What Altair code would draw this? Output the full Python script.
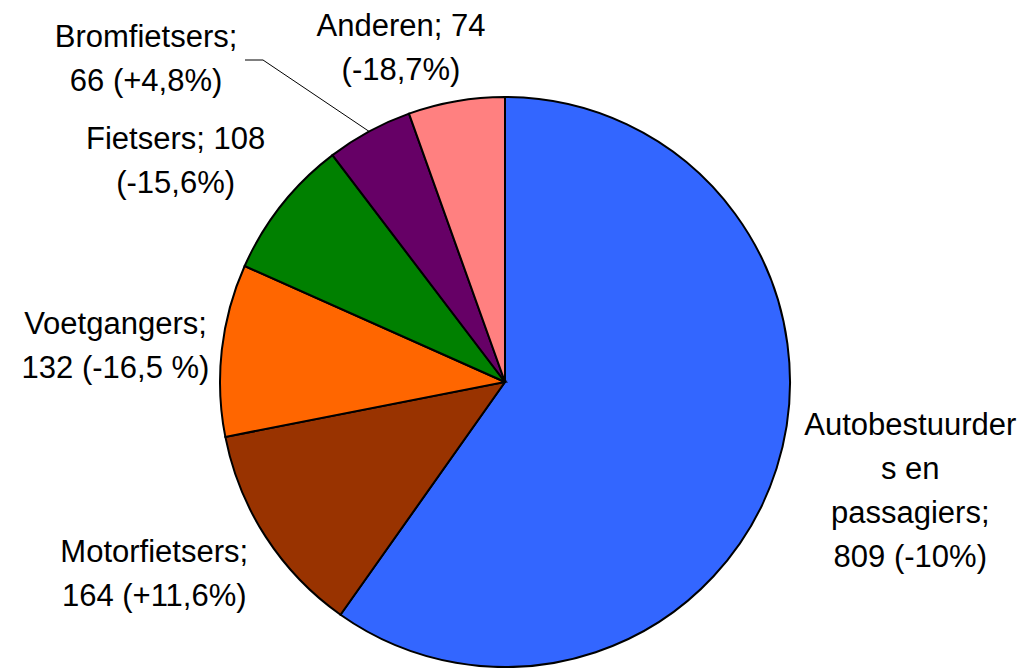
import math
import altair as alt
import pandas as pd

categories = ["Autobestuurders en passagiers", "Motorfietsers", "Voetgangers",
              "Fietsers", "Bromfietsers", "Anderen"]
values = [809, 164, 132, 108, 66, 74]
changes = ["-10%", "+11,6%", "-16,5 %", "-15,6%", "+4,8%", "-18,7%"]
label_texts = [
    "Autobestuurder\ns en\npassagiers;\n809 (-10%)",
    "Motorfietsers;\n164 (+11,6%)",
    "Voetgangers;\n132 (-16,5 %)",
    "Fietsers; 108\n(-15,6%)",
    "Bromfietsers;\n66 (+4,8%)",
    "Anderen; 74\n(-18,7%)",
]
colors = ["#3366FF", "#993300", "#FF6600", "#008000", "#660066", "#FF8080"]

df = pd.DataFrame({
    "cat": categories,
    "value": values,
    "change": changes,
    "label": label_texts,
    "idx": list(range(len(categories))),
})

# layout (not data)
W, H = 1010, 660
CX, CY = 497, 374
R = 285
FONT = "Liberation Sans"
FS = 31
LH = 44
label_layout = {
    "Autobestuurders en passagiers": (420, 5, -17),
    "Motorfietsers": (400, -15, -24),
    "Voetgangers": (395, 3, 9),
    "Fietsers": (410, -8, 35),
    "Bromfietsers": (367, -184, 1),
    "Anderen": (345, -45, 7),
}

base = alt.Chart(df)

pie = base.mark_arc(outerRadius=R, stroke="black", strokeWidth=2).encode(
    theta=alt.Theta("value:Q", stack=True),
    order=alt.Order("idx:Q"),
    color=alt.Color("cat:N", scale=alt.Scale(domain=categories, range=colors), legend=None),
    x=alt.value(CX),
    y=alt.value(CY),
)

withmid = base.transform_window(
    cum="sum(value)", sort=[alt.SortField("idx")], frame=[None, 0]
).transform_joinaggregate(total="sum(value)").transform_calculate(
    mid="2*PI*(datum.cum - datum.value/2)/datum.total"
)

label_layers = []
for cat, txt in zip(categories, label_texts):
    r, dx, dy = label_layout[cat]
    n_lines = txt.count("\n") + 1
    dy_adj = dy - (n_lines - 1) * LH / 2
    label_layers.append(
        withmid.transform_filter(alt.datum.cat == cat).mark_text(
            radius=r, dx=dx, dy=dy_adj, font=FONT, fontSize=FS, lineHeight=LH,
            lineBreak="\n", align="center", baseline="middle", color="black"
        ).encode(
            theta=alt.Theta("mid:Q", scale=None, stack=None),
            text="label:N",
            x=alt.value(CX),
            y=alt.value(CY),
        )
    )

# leader line for Bromfietsers: ends on rim at slice mid-angle
total = sum(values)
i_b = categories.index("Bromfietsers")
cum_b = sum(values[: i_b + 1])
mid_b = 2 * math.pi * (cum_b - values[i_b] / 2) / total
end_x = CX + R * math.sin(mid_b)
end_y = CY - R * math.cos(mid_b)
leader_df = pd.DataFrame({"px": [237, 255, end_x], "py": [52, 52, end_y], "i": [0, 1, 2]})
leader = alt.Chart(leader_df).mark_line(color="black", strokeWidth=1).encode(
    x=alt.X("px:Q", scale=None, axis=None),
    y=alt.Y("py:Q", scale=None, axis=None),
    order="i:Q",
)

chart = alt.layer(pie, leader, *label_layers).properties(
    width=W, height=H, autosize=alt.AutoSizeParams(type="none"), padding=0
).configure_view(stroke=None)

chart.save("out.html", embed_options={"renderer": "svg", "actions": False})
